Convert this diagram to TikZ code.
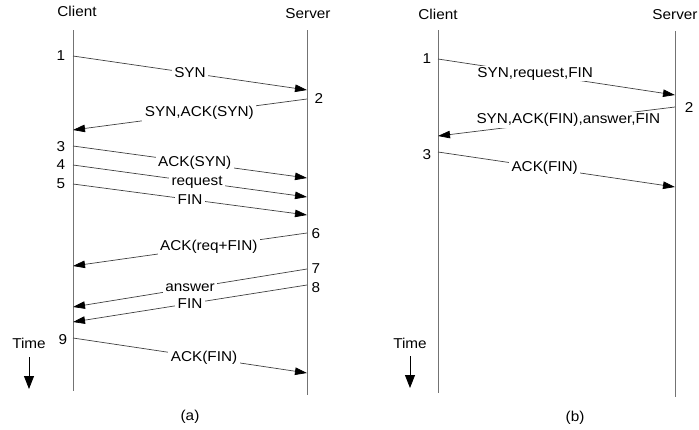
\documentclass[tikz,border=0pt]{standalone}
\usepackage{fontspec}
\setmainfont{Liberation Sans}[FakeStretch=1.07]
\usetikzlibrary{arrows.meta}
\begin{document}
\begin{tikzpicture}[x=1pt,y=-1pt,
  every node/.style={font=\fontsize{14.3}{16}\selectfont, inner sep=1pt, text=black},
  life/.style={draw=black!55, line width=0.9pt},
  msg/.style={draw=black!75, line width=0.7pt, -{Triangle[length=12pt,width=7.5pt,color=black]}},
  lbl/.style={fill=white, inner sep=2.5pt},
  timearrow/.style={draw=black, line width=0.8pt, -{Triangle[length=13pt,width=10pt]}}]
\useasboundingbox (0,0) rectangle (699,429);

% ---------- panel (a) ----------
\coordinate (aCt) at (73,30);  \coordinate (aCb) at (73,391);
\coordinate (aSt) at (307,30); \coordinate (aSb) at (307,395);
\draw[life] (aCt) -- (aCb);
\draw[life] (aSt) -- (aSb);
\node (aClient) at (77,11) {Client};
\node (aServer) at (308,14) {Server};

\coordinate (a1s) at (73,56);  \coordinate (a1e) at (307,90);
\coordinate (a2s) at (307,99); \coordinate (a2e) at (73,130);
\coordinate (a3s) at (73,146); \coordinate (a3e) at (307,178);
\coordinate (a4s) at (73,165); \coordinate (a4e) at (307,197);
\coordinate (a5s) at (73,184); \coordinate (a5e) at (307,215);
\coordinate (a6s) at (307,233); \coordinate (a6e) at (73,266);
\coordinate (a7s) at (307,269); \coordinate (a7e) at (73,307);
\coordinate (a8s) at (307,285); \coordinate (a8e) at (73,322);
\coordinate (a9s) at (73,338); \coordinate (a9e) at (307,373);

\draw[msg] (a1s) -- node[lbl,pos=0.5] (la1) {SYN} (a1e);
\draw[msg] (a2s) -- node[lbl,pos=0.46] (la2) {SYN,ACK(SYN)} (a2e);
\draw[msg] (a3s) -- node[lbl,pos=0.52] (la3) {ACK(SYN)} (a3e);
\draw[msg] (a4s) -- node[lbl,pos=0.53] (la4) {request} (a4e);
\draw[msg] (a5s) -- node[lbl,pos=0.5] (la5) {FIN} (a5e);
\draw[msg] (a6s) -- node[lbl,pos=0.42] (la6) {ACK(req+FIN)} (a6e);
\draw[msg] (a7s) -- node[lbl,pos=0.5] (la7) {answer} (a7e);
\draw[msg] (a8s) -- node[lbl,pos=0.5] (la8) {FIN} (a8e);
\draw[msg] (a9s) -- node[lbl,pos=0.56] (la9) {ACK(FIN)} (a9e);

\node (an1) at (61,56) {1};
\node (an2) at (319,99) {2};
\node (an3) at (61,147) {3};
\node (an4) at (61,165) {4};
\node (an5) at (61,184) {5};
\node (an6) at (316,234) {6};
\node (an7) at (316,269) {7};
\node (an8) at (316,288) {8};
\node (an9) at (63,340) {9};

\node (aTime) at (29,343) {Time};
\coordinate (aT1) at (29,357); \coordinate (aT2) at (29,389);
\draw[timearrow] (aT1) -- (aT2);
\node (acap) at (190,417) {(a)};

% ---------- panel (b) ----------
\coordinate (bCt) at (438,30);  \coordinate (bCb) at (438,393);
\coordinate (bSt) at (675,31);  \coordinate (bSb) at (675,397);
\draw[life] (bCt) -- (bCb);
\draw[life] (bSt) -- (bSb);
\node (bClient) at (438,14) {Client};
\node (bServer) at (675,15) {Server};

\coordinate (b1s) at (438,59);  \coordinate (b1e) at (675,95);
\coordinate (b2s) at (675,107); \coordinate (b2e) at (438,136);
\coordinate (b3s) at (438,152); \coordinate (b3e) at (675,187);

\draw[msg] (b1s) -- node[lbl,pos=0.41,inner sep=1pt] (lb1) {SYN,request,FIN} (b1e);
\draw[msg] (b2s) -- node[lbl,pos=0.45,inner sep=1pt] (lb2) {SYN,ACK(FIN),answer,FIN} (b2e);
\draw[msg] (b3s) -- node[lbl,pos=0.45] (lb3) {ACK(FIN)} (b3e);

\node (bn1) at (427,59) {1};
\node (bn2) at (689,108) {2};
\node (bn3) at (427,155) {3};

\node (bTime) at (410,343) {Time};
\coordinate (bT1) at (410,356); \coordinate (bT2) at (410,388);
\draw[timearrow] (bT1) -- (bT2);
\node (bcap) at (575,418) {(b)};
\end{tikzpicture}
\end{document}
